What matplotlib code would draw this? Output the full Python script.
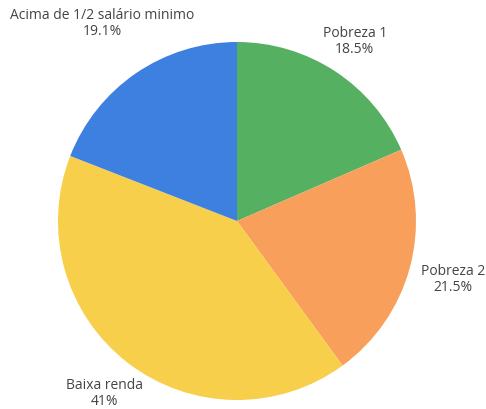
import numpy as np
import matplotlib
matplotlib.use("Agg")
import matplotlib.pyplot as plt

labels = ["Pobreza 1", "Pobreza 2", "Baixa renda", "Acima de 1/2 salário minimo"]
shares = [18.5, 21.5, 41.0, 19.1]
pct_text = ["18.5%", "21.5%", "41%", "19.1%"]
colors = ["#55b062", "#f89f5b", "#f8cf4a", "#3d80e0"]

# how far out each label sits (in pie radii)
label_dist = [1.20, 1.25, 1.215, 1.335]

plt.rcParams["font.family"] = ["Open Sans", "DejaVu Sans"]

W, H = 486, 409
fig = plt.figure(figsize=(W / 100, H / 100), dpi=100)
cx, cy, r = 237, 221, 179
ax = fig.add_axes([(cx - r) / W, 1 - (cy + r) / H, 2 * r / W, 2 * r / H])

wedges, _ = ax.pie(shares, colors=colors, startangle=90, counterclock=False,
                   radius=1, wedgeprops=dict(linewidth=0))

for w, lab, pct, d in zip(wedges, labels, pct_text, label_dist):
    mid = np.deg2rad((w.theta1 + w.theta2) / 2)
    ax.text(d * np.cos(mid), d * np.sin(mid), f"{lab}\n{pct}",
            ha="center", va="center", fontsize=10, color="#444444",
            linespacing=1.1)

ax.set_xlim(-1, 1)
ax.set_ylim(-1, 1)
ax.set_aspect("auto")
ax.axis("off")

fig.savefig("out.png", dpi=100)
